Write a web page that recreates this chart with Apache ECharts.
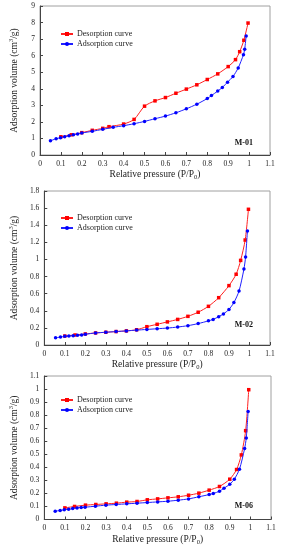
<!DOCTYPE html>
<html>
<head>
<meta charset="utf-8">
<script src="https://cdn.jsdelivr.net/npm/echarts@6/dist/echarts.min.js"></script>
<style>html,body{margin:0;padding:0;background:#fff}#c{width:285px;height:550px}</style>
</head>
<body>
<div id="c"></div>
<script>
// Panel M-01
var m01DesX = [0.1,0.15,0.2,0.25,0.3,0.33,0.4,0.45,0.5,0.55,0.6,0.65,0.7,0.75,0.8,0.85,0.9,0.935,0.955,0.975,0.995];
var m01DesY = [1.10,1.22,1.35,1.49,1.61,1.71,1.87,2.15,2.95,3.27,3.47,3.73,3.98,4.24,4.56,4.90,5.34,5.76,6.24,6.93,7.97];
var m01AdsX = [0.05,0.077,0.098,0.118,0.139,0.16,0.18,0.2,0.25,0.3,0.35,0.4,0.45,0.5,0.55,0.6,0.65,0.7,0.75,0.8,0.82,0.85,0.872,0.897,0.923,0.948,0.973,0.979,0.986];
var m01AdsY = [0.86,0.98,1.04,1.10,1.16,1.22,1.27,1.33,1.43,1.55,1.67,1.77,1.89,2.03,2.19,2.35,2.55,2.79,3.07,3.41,3.59,3.86,4.08,4.40,4.74,5.26,6.06,6.39,7.19];
// Panel M-02
var m02DesX = [0.1,0.15,0.2,0.25,0.3,0.35,0.4,0.45,0.5,0.55,0.6,0.65,0.7,0.75,0.8,0.85,0.9,0.935,0.957,0.979,0.995];
var m02DesY = [0.105,0.117,0.129,0.141,0.149,0.157,0.165,0.178,0.214,0.242,0.270,0.299,0.335,0.383,0.452,0.553,0.694,0.827,0.989,1.227,1.586];
var m02AdsX = [0.055,0.079,0.1,0.12,0.141,0.162,0.182,0.2,0.25,0.3,0.35,0.4,0.45,0.5,0.55,0.6,0.65,0.7,0.75,0.8,0.823,0.85,0.873,0.9,0.924,0.949,0.973,0.981,0.99];
var m02AdsY = [0.085,0.093,0.101,0.105,0.109,0.113,0.117,0.125,0.141,0.149,0.157,0.165,0.174,0.182,0.190,0.198,0.210,0.226,0.250,0.282,0.299,0.331,0.363,0.416,0.496,0.630,0.888,1.029,1.332];
// Panel M-06
var m06DesX = [0.1,0.147,0.2,0.25,0.3,0.35,0.4,0.45,0.5,0.55,0.6,0.65,0.7,0.75,0.8,0.85,0.9,0.933,0.956,0.977,0.992];
var m06DesY = [0.089,0.100,0.110,0.115,0.120,0.125,0.133,0.138,0.151,0.158,0.166,0.174,0.186,0.202,0.225,0.253,0.309,0.383,0.495,0.681,0.995];
var m06AdsX = [0.053,0.077,0.097,0.118,0.138,0.159,0.179,0.198,0.248,0.299,0.349,0.4,0.45,0.5,0.55,0.6,0.65,0.7,0.75,0.8,0.82,0.85,0.872,0.9,0.922,0.947,0.972,0.98,0.989];
var m06AdsY = [0.064,0.069,0.074,0.079,0.084,0.089,0.092,0.094,0.102,0.110,0.115,0.120,0.125,0.130,0.135,0.140,0.148,0.158,0.174,0.191,0.199,0.217,0.240,0.270,0.309,0.385,0.544,0.625,0.827];

var xTickMax = 1.1, xTickStep = 0.1;
var yMax = [9, 1.8, 1.1];
var yStep = [1, 0.2, 0.1];
var panelLabels = ['M-01', 'M-02', 'M-06'];
var desName = 'Desorption curve', adsName = 'Adsorption curve';

function pairs(xs, ys){ return xs.map(function(x,i){ return [x, ys[i]]; }); }

var FONT = '"Liberation Serif", "Times New Roman", serif';
var grids = [
  {left: 39, right: 15, top: 6, height: 149},
  {left: 39, right: 15, top: 191, height: 154},
  {left: 38, right: 14, top: 376, height: 143.5}
];
grids.forEach(function(g){ g.show = true; g.borderColor = '#a0a0a0'; g.borderWidth = 1; g.backgroundColor = 'transparent'; });

var xAxes = [], yAxes = [], series = [], legends = [], graphics = [];
var legendTops = [25, 209, 391];
var labelTops = [139, 321, 502];
var allData = [[m01DesX,m01DesY,m01AdsX,m01AdsY],[m02DesX,m02DesY,m02AdsX,m02AdsY],[m06DesX,m06DesY,m06AdsX,m06AdsY]];

for (var i = 0; i < 3; i++) {
  xAxes.push({
    gridIndex: i, type: 'value', min: 0, max: xTickMax, interval: xTickStep,
    name: '{t|Relative pressure (P/P}{s|0}{t|)}', nameLocation: 'middle', nameGap: 13,
    nameTextStyle: {rich: {t: {fontFamily: FONT, fontSize: 9.5, color: '#222'}, s: {fontFamily: FONT, fontSize: 6.5, color: '#222', verticalAlign: 'bottom', padding: [6,0,0,0]}}},
    axisLine: {lineStyle: {color: '#444', width: 1}},
    axisTick: {inside: true, length: 3, lineStyle: {color: '#444'}},
    axisLabel: {fontFamily: FONT, fontSize: 7.5, color: '#222', margin: 5},
    splitLine: {show: false}
  });
  yAxes.push({
    gridIndex: i, type: 'value', min: 0, max: yMax[i], interval: yStep[i],
    name: '{t|Adsorption volume (cm}{s|3}{t|/g)}', nameLocation: 'middle', nameGap: i === 0 ? 20 : 21, nameRotate: 90,
    nameTextStyle: {rich: {t: {fontFamily: FONT, fontSize: 9.5, color: '#222'}, s: {fontFamily: FONT, fontSize: 6.5, color: '#222', verticalAlign: 'top', padding: [0,0,5,0]}}},
    axisLine: {lineStyle: {color: '#444', width: 1}},
    axisTick: {inside: true, length: 3, lineStyle: {color: '#444'}},
    axisLabel: {fontFamily: FONT, fontSize: 7.5, color: '#222', margin: 5},
    splitLine: {show: false}
  });
  var d = allData[i];
  series.push({
    name: desName, type: 'line', xAxisIndex: i, yAxisIndex: i, data: pairs(d[0], d[1]),
    smooth: 0.25, symbol: 'rect', symbolSize: 3.5, showAllSymbol: true,
    lineStyle: {color: '#ff2020', width: 1}, itemStyle: {color: '#ff0000'}, z: 3
  });
  series.push({
    name: adsName, type: 'line', xAxisIndex: i, yAxisIndex: i, data: pairs(d[2], d[3]),
    smooth: 0.25, symbol: 'circle', symbolSize: 3.5, showAllSymbol: true,
    lineStyle: {color: '#2020ff', width: 1}, itemStyle: {color: '#0000ff'}, z: 4
  });
  legends.push({
    left: 55, top: legendTops[i], orient: 'vertical', itemGap: 2, itemWidth: 12, itemHeight: 5,
    data: [desName, adsName], selectedMode: false,
    textStyle: {fontFamily: FONT, fontSize: 8, color: '#222', padding: [0,0,0,-1]}
  });
  graphics.push({
    type: 'text', right: 32, top: labelTops[i],
    style: {text: panelLabels[i], fontFamily: FONT, fontSize: 8, fontWeight: 'bold', fill: '#111'}
  });
}

var chart = echarts.init(document.getElementById('c'), null, {renderer: 'canvas'});
chart.setOption({
  animation: false,
  grid: grids, xAxis: xAxes, yAxis: yAxes, series: series, legend: legends, graphic: graphics
});
</script>
</body>
</html>
